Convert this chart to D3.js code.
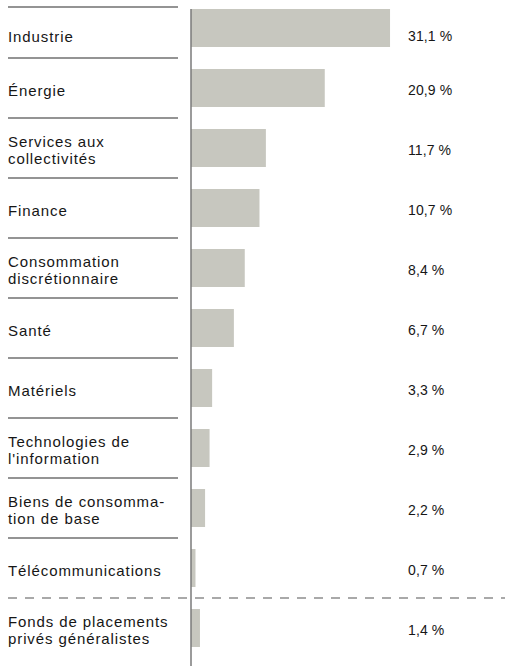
<!DOCTYPE html>
<html>
<head>
<meta charset="utf-8">
<script src="https://cdn.jsdelivr.net/npm/d3@7"></script>
<style>
  html, body { margin: 0; padding: 0; background: #fff; }
  svg { display: block; }
  .cat { font-family: "Liberation Sans", Arial, sans-serif; font-size: 15px; letter-spacing: 0.9px; fill: #161616; }
  .val { font-family: "Liberation Sans", Arial, sans-serif; font-size: 14px; letter-spacing: 0.1px; fill: #161616; }
</style>
</head>
<body>
<script>
// Sector weights (%), one row per sector; "\n" marks a line break in the label
const categories = [
  "Industrie",
  "Énergie",
  "Services aux\ncollectivités",
  "Finance",
  "Consommation\ndiscrétionnaire",
  "Santé",
  "Matériels",
  "Technologies de\nl'information",
  "Biens de consomma-\ntion de base",
  "Télécommunications",
  "Fonds de placements\nprivés généralistes"
];
const values = [31.1, 20.9, 11.7, 10.7, 8.4, 6.7, 3.3, 2.9, 2.2, 0.7, 1.4];
// Rows listed after the dashed divider
const separatedCategories = ["Fonds de placements\nprivés généralistes"];

const W = 505, H = 666;
const svg = d3.select("body").append("svg").attr("width", W).attr("height", H);

const row = d3.scaleBand().domain(categories).range([-2, 658]);
const x = d3.scaleLinear().domain([0, 50]).range([191, 511]);
const barH = 38;
const labelX = 8, sepEnd = 178, valueX = 408, topRule = 7, lineH = 17;

const fmt = v => d3.format(".1f")(v).replace(".", ",") + " %";

const data = categories.map((c, i) => ({ cat: c, value: values[i], i }));

// top edge of the slot each label sits in
const slotTop = d => d.i === 0 ? topRule + 3 : row(d.cat);
const slotMid = d => (slotTop(d) + row(d.cat) + row.step()) / 2;

// bars
svg.append("g").selectAll("rect").data(data).join("rect")
  .attr("x", x(0))
  .attr("y", d => row(d.cat) + (row.bandwidth() - barH) / 2)
  .attr("width", d => x(d.value) - x(0))
  .attr("height", barH)
  .attr("fill", "#c7c7bf");

// rules between rows
svg.append("line")
  .attr("x1", labelX).attr("x2", sepEnd)
  .attr("y1", topRule).attr("y2", topRule)
  .attr("stroke", "#2a2a2a").attr("stroke-width", 1.2);

const rules = data.slice(0, -1);
svg.append("g").selectAll("line").data(rules).join("line")
  .each(function(d) {
    const next = categories[d.i + 1];
    const dashed = separatedCategories.includes(next);
    const yy = row(d.cat) + row.step();
    d3.select(this)
      .attr("x1", labelX).attr("x2", dashed ? W : sepEnd)
      .attr("y1", yy).attr("y2", yy)
      .attr("stroke", dashed ? "#555" : "#2a2a2a")
      .attr("stroke-width", 1.2)
      .attr("stroke-dasharray", dashed ? "9,8" : null);
  });

// zero axis
svg.append("line")
  .attr("x1", x(0)).attr("x2", x(0))
  .attr("y1", row(categories[0]) + (row.bandwidth() - barH) / 2).attr("y2", H)
  .attr("stroke", "#7a7a7a").attr("stroke-width", 1.5);

// category labels
svg.append("g").selectAll("text").data(data).join("text")
  .attr("class", "cat")
  .each(function(d) {
    const lines = d.cat.split("\n");
    const mid = slotMid(d);
    d3.select(this).selectAll("tspan").data(lines).join("tspan")
      .attr("x", labelX)
      .attr("y", (l, k) => mid + 7.5 + (k - (lines.length - 1) / 2) * lineH)
      .text(l => l);
  });

// value labels
svg.append("g").selectAll("text").data(data).join("text")
  .attr("class", "val")
  .attr("x", valueX)
  .attr("y", d => slotMid(d) + 7)
  .text(d => fmt(d.value));
</script>
</body>
</html>
